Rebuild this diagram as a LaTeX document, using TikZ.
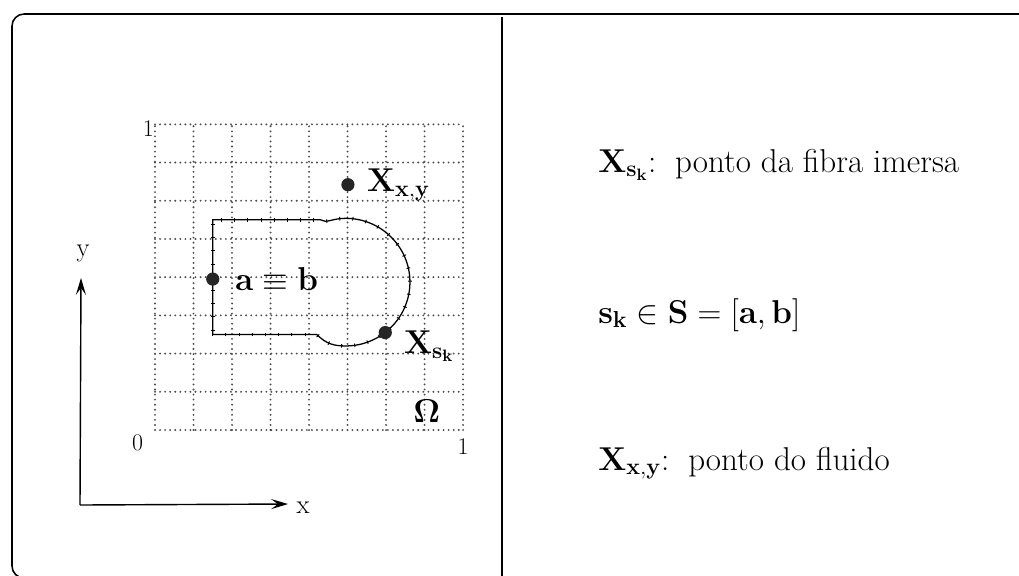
\RequirePackage{fix-cm}
\documentclass[tikz,border=0pt]{standalone}
\usepackage{tikz}
\usetikzlibrary{arrows.meta,positioning,decorations.markings}

\begin{document}
\begin{tikzpicture}[
        x=0.025cm,y=-0.025cm,
        panel/.style={line width=1.1pt},
        griddot/.style={line width=1.5pt,dash pattern=on 0pt off 3.6pt,line cap=round,draw=black!70},
        fibre/.style={line width=0.9pt,
          postaction={decorate,decoration={markings,
            mark=between positions 0 and 1 step 0.33cm with {\draw[line width=0.7pt] (0,-1.3pt) -- (0,1.3pt);}}}},
        ptdot/.style={circle,fill=black!85,inner sep=0pt,minimum size=0.33cm},
        lab/.style={font=\fontsize{23.5}{28}\selectfont,inner sep=0pt},
        ticklab/.style={font=\fontsize{17}{20}\selectfont,inner sep=0pt},
        axlab/.style={font=\fontsize{19}{22}\selectfont,inner sep=0pt},
        axisarr/.style={line width=1pt,-{Stealth[length=4.2mm,width=2.5mm,inset=1.7mm]}}
      ]
        \useasboundingbox (0,0) rectangle (1019,575);
        % outer frame and divider
        \draw[panel,rounded corners=0.3cm] (1100,14) -- (12,14) -- (12,578) -- (1100,578);
        \draw[panel] (502,17) -- (502,580);
        % unit square with fibre
        \begin{scope}[shift={(155,430)},x=0.9625cm,y=0.955cm]
          \draw[griddot,step=1] (0,0) grid (8,8);
          \node[ticklab] (one) at (-0.17,7.9) {1};
          \node[ticklab] (zero) at (-0.45,-0.34) {0};
          \node[ticklab] (onex) at (8.0,-0.44) {1};
          \node[lab] (omega) at (7.06,0.49) {$\mathbf{\Omega}$};
          \draw[fibre] (1.5,2.5) -- (4.2,2.5) .. controls (4.45,2.25) and (4.65,2.2) .. (4.95,2.2)
            arc[start angle=-90,end angle=90,radius=1.67]
            .. controls (4.6,5.54) and (4.45,5.4) .. (4.3,5.5) -- (1.5,5.5) -- cycle;
          \node[ptdot] (ab) at (1.5,3.95) {};
          \node[lab,right=0.38cm of ab] (ablab) {$\mathbf{a\equiv b}$};
          \node[ptdot] (xy) at (5.01,6.42) {};
          \node[lab,right=0.3cm of xy] (xylab) {$\mathbf{X_{x,y}}$};
          \node[ptdot] (xs) at (5.98,2.55) {};
          \node[lab,anchor=north west] (xslab) at ([xshift=0.29cm,yshift=0.05cm]xs.east) {$\mathbf{X_{s_k}}$};
        \end{scope}
        % axes
        \coordinate (orig) at (80,505);
        \coordinate (yend) at (81,278);
        \coordinate (xend) at (288,504);
        \draw[axisarr] (orig) -- (yend);
        \draw[axisarr] (orig) -- (xend);
        \node[axlab] (ylab) at (83,253) {y};
        \node[axlab] (xlab) at (303,508) {x};
        % legend
        \node[lab,anchor=base west] (lsk) at (598,172) {$\mathbf{X_{s_k}}$:\, ponto da fibra imersa};
        \node[lab,anchor=base west] (lS) at (598,323) {$\mathbf{s_k}\in\mathbf{S}=[\mathbf{a},\mathbf{b}]$};
        \node[lab,anchor=base west] (lxy) at (598,470) {$\mathbf{X_{x,y}}$:\, ponto do fluido};
      \end{tikzpicture}
\end{document}
